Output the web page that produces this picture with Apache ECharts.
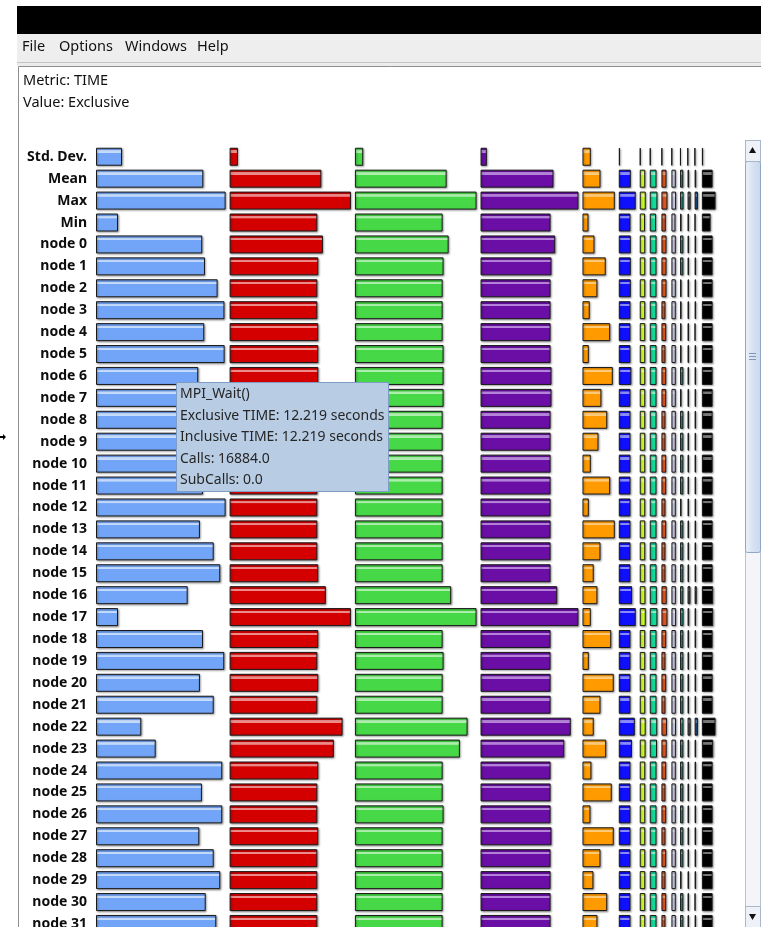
<!DOCTYPE html>
<html>
<head>
<meta charset="utf-8">
<script src="https://cdn.jsdelivr.net/npm/echarts@6/dist/echarts.min.js"></script>
<style>
  html, body { margin: 0; padding: 0; background: #ffffff; overflow: hidden; height: 927px; }
  /* the scroll pane keeps going below the visible window edge */
  #chart { width: 761px; height: 960px; }
</style>
</head>
<body>
<div id="chart"></div>
<script>
// Row labels (summary rows followed by one row per node)
const rowLabels = [
  'Std. Dev.', 'Mean', 'Max', 'Min',
  'node 0', 'node 1', 'node 2', 'node 3', 'node 4', 'node 5', 'node 6', 'node 7',
  'node 8', 'node 9', 'node 10', 'node 11', 'node 12', 'node 13', 'node 14', 'node 15',
  'node 16', 'node 17', 'node 18', 'node 19', 'node 20', 'node 21', 'node 22', 'node 23',
  'node 24', 'node 25', 'node 26', 'node 27', 'node 28', 'node 29', 'node 30', 'node 31'
];

// Exclusive TIME per function, seconds (one array per function column)
const mpiWait = [2.47, 10.19, 12.31, 2.09,
  10.09, 10.35, 11.55, 12.20, 10.28, 12.219, 9.71, 10.40, 11.20, 9.80, 10.00, 10.16,
  12.31, 9.87, 11.18, 11.80, 8.71, 2.09, 10.16, 12.18, 9.87, 11.18, 4.30, 5.67,
  11.99, 10.06, 11.99, 9.81, 11.18, 11.80, 10.42, 11.42];
const funcRed = [0.79, 8.71, 11.52, 8.33,
  8.86, 8.42, 8.33, 8.33, 8.42, 8.42, 8.42, 8.42, 8.33, 8.33, 8.33, 8.33,
  8.33, 8.33, 8.33, 8.42, 9.14, 11.52, 8.42, 8.33, 8.42, 8.33, 10.73, 9.90,
  8.42, 8.33, 8.33, 8.42, 8.33, 8.33, 8.33, 8.33];
const funcGreen = [0.79, 8.71, 11.55, 8.33,
  8.90, 8.42, 8.33, 8.33, 8.33, 8.42, 8.42, 8.42, 8.33, 8.33, 8.33, 8.33,
  8.33, 8.33, 8.33, 8.33, 9.14, 11.55, 8.33, 8.42, 8.33, 8.33, 10.70, 9.97,
  8.33, 8.33, 8.42, 8.33, 8.33, 8.33, 8.33, 8.33];
const funcPurple = [0.60, 6.93, 9.30, 6.65,
  7.09, 6.74, 6.65, 6.65, 6.65, 6.65, 6.74, 6.74, 6.65, 6.65, 6.65, 6.65,
  6.65, 6.65, 6.65, 6.65, 7.28, 9.30, 6.65, 6.65, 6.65, 6.65, 8.57, 7.95,
  6.65, 6.65, 6.65, 6.74, 6.65, 6.65, 6.65, 6.65];
const funcOrange = [0.79, 1.71, 3.07, 0.57,
  1.14, 2.21, 1.42, 0.69, 2.63, 0.60, 2.88, 1.80, 2.35, 1.52, 0.79, 2.63,
  0.60, 3.07, 1.71, 1.07, 1.42, 0.79, 2.73, 0.60, 2.97, 1.71, 1.07, 2.25,
  0.85, 2.78, 0.76, 2.97, 1.71, 1.04, 2.35, 1.42];
const funcBlue = [0.12, 1.14, 1.61, 1.11,
  1.14, 1.14, 1.14, 1.11, 1.11, 1.11, 1.19, 1.11, 1.11, 1.11, 1.11, 1.11,
  1.11, 1.11, 1.11, 1.11, 1.26, 1.61, 1.11, 1.11, 1.11, 1.11, 1.52, 1.25,
  1.11, 1.11, 1.11, 1.11, 1.11, 1.11, 1.11, 1.11];
const funcLime = [0.09, 0.52, 0.57, 0.50,
  0.52, 0.52, 0.52, 0.52, 0.52, 0.52, 0.52, 0.52, 0.52, 0.52, 0.52, 0.52,
  0.52, 0.52, 0.52, 0.52, 0.54, 0.57, 0.52, 0.52, 0.52, 0.52, 0.56, 0.55,
  0.52, 0.52, 0.52, 0.52, 0.52, 0.52, 0.52, 0.52];
const funcMint = [0.09, 0.64, 0.73, 0.60,
  0.64, 0.64, 0.64, 0.64, 0.64, 0.64, 0.64, 0.64, 0.64, 0.64, 0.64, 0.64,
  0.64, 0.64, 0.64, 0.64, 0.67, 0.73, 0.64, 0.64, 0.64, 0.64, 0.71, 0.69,
  0.64, 0.64, 0.64, 0.64, 0.64, 0.64, 0.64, 0.64];
const funcRust = [0.08, 0.48, 0.57, 0.41,
  0.48, 0.48, 0.48, 0.38, 0.45, 0.38, 0.45, 0.45, 0.38, 0.38, 0.45, 0.45,
  0.38, 0.45, 0.38, 0.38, 0.50, 0.57, 0.45, 0.38, 0.45, 0.38, 0.52, 0.50,
  0.45, 0.38, 0.45, 0.38, 0.45, 0.38, 0.45, 0.38];
const funcLavender = [0.07, 0.41, 0.44, 0.38,
  0.41, 0.41, 0.41, 0.41, 0.41, 0.41, 0.41, 0.41, 0.41, 0.41, 0.41, 0.41,
  0.41, 0.41, 0.41, 0.41, 0.42, 0.44, 0.41, 0.41, 0.41, 0.41, 0.43, 0.42,
  0.41, 0.41, 0.41, 0.41, 0.41, 0.41, 0.41, 0.41];
const funcTeal = [0.07, 0.30, 0.33, 0.14,
  0.31, 0.31, 0.14, 0.14, 0.14, 0.14, 0.31, 0.14, 0.31, 0.31, 0.31, 0.31,
  0.14, 0.31, 0.31, 0.31, 0.31, 0.33, 0.31, 0.31, 0.31, 0.31, 0.32, 0.31,
  0.31, 0.31, 0.31, 0.31, 0.31, 0.14, 0.31, 0.31];
const funcGray = [0.05, 0.15, 0.29, 0.13,
  0.14, 0.14, 0.14, 0.14, 0.14, 0.14, 0.14, 0.14, 0.14, 0.14, 0.14, 0.14,
  0.14, 0.14, 0.14, 0.14, 0.27, 0.16, 0.14, 0.14, 0.14, 0.14, 0.29, 0.15,
  0.14, 0.14, 0.14, 0.14, 0.14, 0.14, 0.14, 0.14];
const funcSteel = [0.05, 0.15, 0.31, 0.08,
  0.14, 0.14, 0.14, 0.14, 0.08, 0.14, 0.14, 0.14, 0.14, 0.14, 0.14, 0.14,
  0.14, 0.14, 0.14, 0.14, 0.20, 0.14, 0.14, 0.14, 0.14, 0.14, 0.31, 0.14,
  0.14, 0.14, 0.14, 0.14, 0.14, 0.14, 0.08, 0.14];
const funcBlack = [0.12, 1.02, 1.30, 0.83,
  1.02, 1.02, 1.02, 1.02, 1.02, 1.02, 1.02, 1.02, 1.02, 1.02, 1.02, 1.02,
  1.02, 1.02, 1.02, 1.02, 1.07, 1.07, 1.02, 1.02, 1.02, 1.02, 1.30, 1.07,
  1.02, 1.02, 1.02, 1.02, 1.02, 1.02, 1.02, 1.02];

// Hover readout for node 5 / MPI_Wait()
const tipLines = [
  'MPI_Wait()',
  'Exclusive TIME: 12.219 seconds',
  'Inclusive TIME: 12.219 seconds',
  'Calls: 16884.0',
  'SubCalls: 0.0'
];

// Column order with fill + gloss colours
const columns = [
  { data: mpiWait,      base: '#72a5f7', gloss: '#c6dcfd' },
  { data: funcRed,      base: '#d40000', gloss: '#ef8c8c' },
  { data: funcGreen,    base: '#46d846', gloss: '#aef0ae' },
  { data: funcPurple,   base: '#6a0ea6', gloss: '#b684da' },
  { data: funcOrange,   base: '#ff9a00', gloss: '#ffcc7a' },
  { data: funcBlue,     base: '#1010ff', gloss: '#8c8cff' },
  { data: funcLime,     base: '#ccff22', gloss: '#efffa0' },
  { data: funcMint,     base: '#12dc98', gloss: '#8ef0cc' },
  { data: funcRust,     base: '#e5561f', gloss: '#f4a27e' },
  { data: funcLavender, base: '#d2d2ee', gloss: '#f2f2ff' },
  { data: funcTeal,     base: '#14a48a', gloss: '#84d8c8' },
  { data: funcGray,     base: '#5a5a5a', gloss: '#9c9c9c' },
  { data: funcSteel,    base: '#1f4f8a', gloss: '#6e92c2' },
  { data: funcBlack,    base: '#000000', gloss: '#7a7a7a' }
];

// Layout constants (pixels)
const PX_PER_SEC = 10.53;
const FIRST_COL_X = 96;
const COL_GAP = 4;
const ROW_TOP = 145.8;
const ROW_PITCH = 21.92;
const BAR_H = 18;
const UI_FONT = '"Noto Sans", "DejaVu Sans", sans-serif';

function gloss(base, light) {
  return new echarts.graphic.LinearGradient(0, 0, 0, 1, [
    { offset: 0, color: base },
    { offset: 0.14, color: base },
    { offset: 0.15, color: light },
    { offset: 0.27, color: light },
    { offset: 0.28, color: base },
    { offset: 1, color: base }
  ]);
}

const grids = [], xAxes = [], yAxes = [], series = [];
let colX = FIRST_COL_X;
columns.forEach((col, i) => {
  const colMax = Math.max(...col.data);
  const w = colMax * PX_PER_SEC;
  grids.push({ left: colX, top: ROW_TOP, width: w, height: rowLabels.length * ROW_PITCH, containLabel: false });
  xAxes.push({ type: 'value', gridIndex: i, min: 0, max: colMax, show: false });
  yAxes.push({
    type: 'category', gridIndex: i, data: rowLabels, inverse: true, show: i === 0,
    axisLine: { show: false }, axisTick: { show: false }, splitLine: { show: false },
    axisLabel: {
      show: i === 0, margin: 9, color: '#0d0d0d',
      fontFamily: UI_FONT, fontWeight: 'bold', fontSize: 14
    }
  });
  series.push({
    type: 'bar', xAxisIndex: i, yAxisIndex: i, data: col.data,
    barWidth: BAR_H, silent: true,
    itemStyle: {
      color: gloss(col.base, col.gloss),
      borderColor: '#1a1a1a', borderWidth: 1,
      shadowColor: 'rgba(0,0,0,0.35)', shadowBlur: 2, shadowOffsetX: 1, shadowOffsetY: 1
    }
  });
  colX += w + COL_GAP;
});

function txt(str, x, y, opts) {
  return {
    type: 'text', z: 20,
    style: Object.assign({
      text: str, x: x, y: y, fill: '#111111', fontFamily: UI_FONT,
      fontSize: 14.5, verticalAlign: 'middle', align: 'left'
    }, opts || {})
  };
}

const chrome = [
  // window title strip and menu bar
  { type: 'rect', z: 0, shape: { x: 17, y: 6, width: 744, height: 28 }, style: { fill: '#000000' } },
  { type: 'rect', z: 0, shape: { x: 17, y: 34, width: 744, height: 28 }, style: { fill: '#eeeeee' } },
  { type: 'rect', z: 0, shape: { x: 17, y: 62, width: 744, height: 1 }, style: { fill: '#c4c4c4' } },
  { type: 'rect', z: 0, shape: { x: 17, y: 63, width: 744, height: 3 }, style: { fill: '#ececec' } },
  // chart panel
  { type: 'rect', z: 0, shape: { x: 18.5, y: 66.5, width: 760, height: 900 },
    style: { fill: '#ffffff', stroke: '#8e8e8e', lineWidth: 1 } },
  txt('File', 22, 47), txt('Options', 59, 47), txt('Windows', 125, 47), txt('Help', 197, 47),
  txt('Metric: TIME', 23, 81),
  txt('Value: Exclusive', 23, 103),
  // vertical scrollbar
  { type: 'rect', z: 10, shape: { x: 745.5, y: 140.5, width: 15, height: 786 },
    style: { fill: '#f3f5f8', stroke: '#b8c2cf', lineWidth: 1 } },
  { type: 'rect', z: 11, shape: { x: 745.5, y: 161.5, width: 15, height: 391, r: 2 },
    style: { fill: new echarts.graphic.LinearGradient(0, 0, 1, 0, [
      { offset: 0, color: '#eef3fa' }, { offset: 0.5, color: '#d6e2f2' }, { offset: 1, color: '#c9d8ec' }]),
      stroke: '#8fa6c6', lineWidth: 1 } },
  { type: 'rect', z: 12, shape: { x: 749, y: 353, width: 7, height: 1 }, style: { fill: '#7f97bb' } },
  { type: 'rect', z: 12, shape: { x: 749, y: 356, width: 7, height: 1 }, style: { fill: '#7f97bb' } },
  { type: 'rect', z: 12, shape: { x: 749, y: 359, width: 7, height: 1 }, style: { fill: '#7f97bb' } },
  { type: 'rect', z: 11, shape: { x: 745.5, y: 140.5, width: 15, height: 21 },
    style: { fill: '#eef2f8', stroke: '#a9b7ca', lineWidth: 1 } },
  { type: 'polygon', z: 12, shape: { points: [[749, 153], [756, 153], [752.5, 147]] }, style: { fill: '#111111' } },
  { type: 'rect', z: 11, shape: { x: 745.5, y: 906.5, width: 15, height: 21 },
    style: { fill: '#eef2f8', stroke: '#a9b7ca', lineWidth: 1 } },
  { type: 'polygon', z: 12, shape: { points: [[749, 914], [756, 914], [752.5, 920]] }, style: { fill: '#111111' } },
  // pointer arrow at the far left
  { type: 'polygon', z: 12, shape: { points: [[0, 436], [3, 436], [3, 434], [6, 437], [3, 440], [3, 438], [0, 438]] },
    style: { fill: '#000000' } },
  // hover tooltip box
  { type: 'rect', z: 50, shape: { x: 176.5, y: 382.5, width: 212, height: 109 },
    style: { fill: '#b8cce4', stroke: '#7d9cc6', lineWidth: 1 } }
];
tipLines.forEach((line, i) => {
  const t = txt(line, 180, 394.5 + i * 21.5, { fill: '#262626', fontSize: 14 });
  t.z = 51;
  chrome.push(t);
});

const chart = echarts.init(document.getElementById('chart'), null, { renderer: 'canvas' });
chart.setOption({
  animation: false,
  backgroundColor: '#ffffff',
  grid: grids,
  xAxis: xAxes,
  yAxis: yAxes,
  series: series,
  graphic: { elements: chrome }
});
</script>
</body>
</html>
